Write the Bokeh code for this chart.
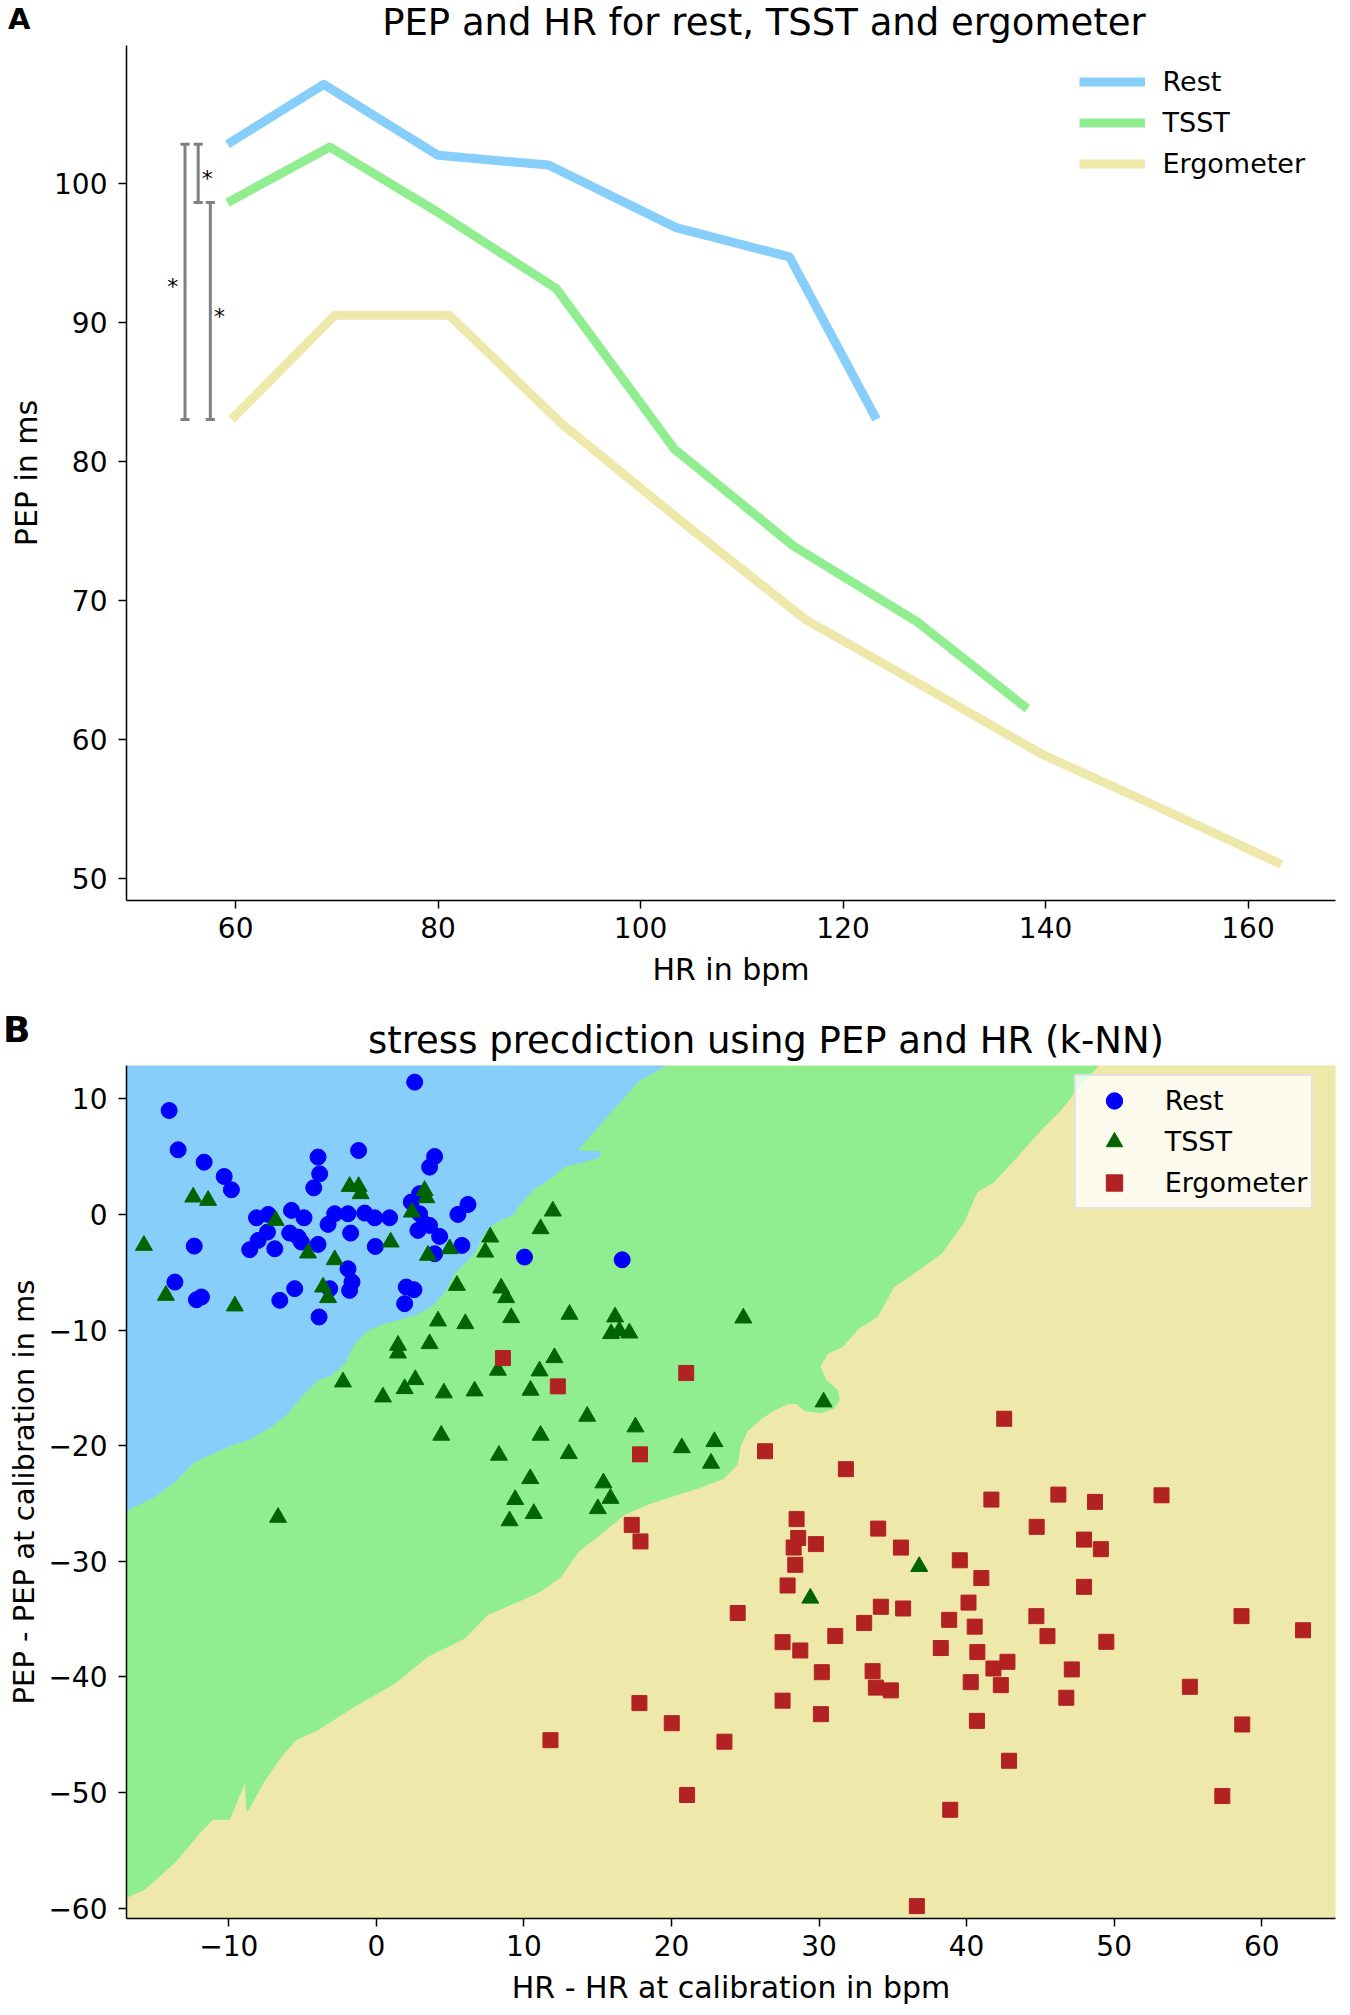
from bokeh.plotting import figure
from bokeh.models import Range1d, FixedTicker, Label, Legend, LegendItem
from bokeh.layouts import column
from bokeh.embed import file_html
from bokeh.resources import INLINE
from bokeh.core.properties import value

FONT = "DejaVu Sans"

# ---------------- Panel A data ----------------
series_names = ["Rest", "TSST", "Ergometer"]
hr_rest = [59.2, 68.7, 80.0, 90.9, 103.5, 114.7, 123.3]
pep_rest = [102.8, 107.1, 102.0, 101.3, 96.8, 94.7, 83.0]
hr_tsst = [59.2, 69.3, 80.2, 91.7, 103.3, 115.1, 127.4, 138.2]
pep_tsst = [98.6, 102.6, 97.8, 92.4, 80.9, 73.9, 68.4, 62.2]
hr_ergo = [59.6, 69.8, 81.1, 92.2, 104.0, 116.3, 127.0, 139.7, 151.5, 163.3]
pep_ergo = [83.0, 90.5, 90.5, 82.7, 75.7, 68.6, 64.2, 58.9, 55.0, 51.0]
a_x_ticks = [60, 80, 100, 120, 140, 160]
a_y_ticks = [50, 60, 70, 80, 90, 100]

# significance brackets (between the first values of the series)
sig_x = [55.0, 56.3, 57.5]
sig_low = [pep_ergo[0], pep_tsst[0], pep_ergo[0]]
sig_high = [pep_rest[0], pep_rest[0], pep_tsst[0]]
sig_star_x = [53.8, 57.2, 58.4]
sig_star_y = [92.9, 100.7, 90.8]

# ---------------- Panel B data ----------------
rest_dhr = [-14.04, 2.60, -13.43, -11.67, -10.31, -9.82, -3.95, -1.20, -3.84, -4.24,
            3.95, 3.61, 6.21, 5.53, 2.93, 2.37, -8.12, -7.33, -5.75, -4.90,
            -2.82, -1.92, -0.79, -0.11, 0.90, -3.27, -5.87, -5.30, -5.08, -7.38,
            -8.01, -8.58, -6.88, -3.95, -1.74, -0.07, 2.93, 3.27, 2.82, 3.61,
            4.29, 3.95, 5.80, -12.34, 10.04, -13.65, -12.19, -11.85, -6.54, -5.53,
            -3.16, -1.92, -1.65, -1.81, 2.03, 2.55, 1.92, -3.88, 16.66]
rest_dpep = [8.99, 11.44, 5.59, 4.52, 3.28, 2.13, 4.96, 5.53, 3.51, 2.30,
             5.01, 4.09, 0.86, 0.00, 1.79, 1.07, -0.29, 0.00, 0.35, -0.29,
             0.06, 0.06, 0.12, -0.29, -0.29, -0.86, -1.61, -1.96, -2.39, -1.53,
             -2.25, -3.05, -2.97, -2.59, -1.61, -2.77, 0.06, -0.81, -1.38, -0.95,
             -1.90, -3.40, -2.68, -2.74, -3.69, -5.85, -7.38, -7.14, -7.43, -6.42,
             -6.42, -4.70, -5.85, -6.57, -6.28, -6.51, -7.72, -8.87, -3.92]

tsst_dhr = [-12.41, -11.40, -15.75, -14.26, -9.59, -6.82, -4.63, -2.82, -1.81, -1.20,
            -1.06, -3.61, -3.27, 0.97, 3.27, 3.39, 2.41, 3.50, 4.97, 7.72,
            7.38, 11.96, 11.13, 5.46, 8.46, 8.80, 9.14, 4.18, 6.03, 1.47,
            1.47, 3.61, 8.24, 12.07, 11.06, 10.45, -2.26, 0.45, 1.92, 2.64,
            4.58, 6.66, 4.40, 11.13, 13.09, 16.18, 15.91, 16.47, 17.15, 24.87,
            14.29, 17.56, 30.31, 13.04, 20.70, 22.91, 22.68, 15.39, 15.87, 15.01,
            36.79, 29.41, 8.31, 10.43, 9.41, 10.67, 9.03, -6.66]
tsst_dpep = [1.50, 1.21, -2.68, -7.00, -7.92, -0.52, -3.34, -3.92, 2.42, 2.42,
             1.79, -6.28, -7.20, -2.39, 2.07, 1.44, 0.20, -3.54, -2.97, -1.96,
             -3.26, 0.29, -1.24, -6.14, -6.37, -7.20, -8.93, -9.22, -9.45, -11.32,
             -11.99, -11.18, -13.48, -12.39, -13.54, -15.21, -14.49, -15.79, -15.07, -14.29,
             -15.44, -15.27, -19.10, -19.10, -8.64, -8.87, -10.31, -10.08, -10.26, -8.96,
             -17.46, -18.38, -16.22, -20.69, -20.18, -19.65, -21.52, -23.22, -24.56, -25.45,
             -30.45, -33.19, -20.83, -22.85, -24.66, -25.87, -26.50, -26.20]

ergo_dhr = [8.58, 12.30, 21.00, 17.87, 26.34, 31.82, 42.55, 17.31, 17.90, 28.48,
            28.59, 28.28, 29.79, 28.39, 27.87, 34.01, 35.55, 39.54, 41.00, 24.49,
            34.19, 35.70, 33.06, 31.10, 27.53, 28.73, 38.82, 40.13, 40.55, 38.25,
            40.73, 30.19, 33.63, 33.85, 34.87, 40.28, 40.70, 27.53, 30.13, 17.83,
            20.02, 11.80, 23.59, 21.06, 38.89, 36.63, 41.68, 46.22, 48.70, 53.21,
            44.75, 47.96, 49.10, 47.96, 44.73, 58.63, 62.80, 45.48, 49.47, 42.77,
            41.82, 47.13, 42.32, 46.76, 55.13, 58.68, 42.88, 57.33]
ergo_dpep = [-12.42, -14.87, -13.71, -20.75, -20.48, -22.03, -17.67, -26.85, -28.28, -26.35,
             -27.98, -28.81, -28.51, -30.30, -32.09, -27.17, -28.81, -29.91, -31.45, -34.47,
             -33.93, -34.08, -35.33, -36.46, -36.99, -37.71, -35.06, -33.57, -35.65, -37.50,
             -37.85, -39.59, -39.50, -40.92, -41.16, -40.45, -43.80, -42.05, -43.22, -42.26,
             -44.00, -45.47, -45.60, -50.21, -51.49, -59.82, -24.66, -24.23, -24.86, -24.29,
             -27.02, -28.12, -28.95, -32.21, -34.74, -34.74, -35.96, -36.47, -36.96, -38.69,
             -39.27, -39.35, -40.71, -41.80, -40.85, -44.11, -47.25, -50.30]

b_x_ticks = [-10, 0, 10, 20, 30, 40, 50, 60]
b_y_ticks = [-60, -50, -40, -30, -20, -10, 0, 10]

# k-NN decision boundaries
rest_edge_x = [19.63, 17.72, 16.02, 13.65, 15.24, 15.12, 12.75, 11.60, 10.72, 9.59,
               9.37, 8.01, 7.33, 6.66, 5.30, 4.74, 3.72, 2.60, 0.56, -0.56,
               -1.47, -2.14, -3.05, -3.95, -5.08, -6.21, -7.11, -8.46, -10.04, -12.30,
               -13.65, -15.00, -16.59, -16.93]
rest_edge_y = [12.88, 11.44, 8.99, 5.53, 5.47, 4.90, 4.09, 2.90, 2.20, 0.63,
               0.06, -0.81, -1.67, -3.40, -5.13, -6.57, -8.01, -8.73, -9.45, -10.03,
               -11.18, -12.91, -13.92, -14.35, -15.79, -17.52, -18.38, -19.39, -20.11, -21.41,
               -23.13, -24.43, -25.44, -25.73]
tsst_edge_x = [48.97, 47.29, 46.40, 45.25, 43.44, 41.86, 40.74, 39.80, 38.30, 36.45,
               35.10, 33.96, 32.70, 31.60, 30.60, 30.10, 30.50, 31.30, 31.40, 31.00,
               30.10, 29.00, 28.50, 27.90, 26.97, 26.10, 25.20, 24.70, 24.50, 23.50,
               21.80, 18.60, 16.80, 15.20, 13.70, 12.50, 11.17, 9.80, 7.56, 5.98,
               3.50, 1.24, -1.47, -3.95, -5.42, -6.43, -7.67, -8.58, -8.80, -8.91,
               -9.93, -11.06, -11.85, -13.65, -15.70, -16.93]
tsst_edge_y = [12.88, 10.43, 8.99, 7.55, 4.96, 2.79, 1.93, -0.81, -3.40, -5.13,
               -6.28, -8.87, -9.88, -11.47, -12.04, -13.20, -14.35, -15.20, -16.10, -16.80,
               -17.20, -17.00, -16.40, -16.40, -16.95, -17.70, -18.70, -20.00, -21.60, -22.90,
               -23.70, -25.00, -26.00, -27.70, -29.20, -31.40, -32.60, -33.40, -34.65, -36.70,
               -38.26, -40.60, -42.58, -44.60, -45.46, -46.90, -49.21, -51.37, -51.66, -49.21,
               -52.38, -52.32, -53.39, -56.10, -58.40, -59.10]

# ---------------- colours ----------------
LINE_COLORS = {"Rest": "#87cefa", "TSST": "#90ee90", "Ergometer": "#eee8aa"}
REGION_COLORS = {"Rest": "#87cefa", "TSST": "#90ee90", "Ergometer": "#eee8aa"}
MARK_COLORS = {"Rest": "#0000ff", "TSST": "#006400", "Ergometer": "#b22222"}

# ---------------- layout geometry (page px) ----------------
W = 1350
FL, FR = 125, 1335
HDR_A, HDR_B = 45, 60          # header strips above each panel
A_FH, B_FH = 855, 853          # frame heights
A_H, B_H = 960, 950            # panel heights (frame + bottom border)
A_XR, A_YR = (49.22, 168.64), (48.4, 109.9)
B_XR, B_YR = (-16.93, 65.0), (-60.89, 12.88)
MID = 0.346                    # alphabetic baseline -> text-box middle, in em


def header(height, title, title_x, title_base, title_size, tag, tag_base, tag_size, tag_right):
    """Strip above a panel: panel tag (as a left-axis label) and the panel title."""
    h = figure(width=W, height=height, x_range=Range1d(FL, FR), y_range=Range1d(height, 0),
               output_backend="svg", toolbar_location=None,
               min_border_left=FL, min_border_right=W - FR, min_border_top=0, min_border_bottom=0,
               x_axis_location=None, y_axis_location="left")
    h.outline_line_color = None
    h.grid.visible = False
    ax = h.yaxis[0]
    tick = round(tag_base - MID * tag_size)
    ax.ticker = FixedTicker(ticks=[tick])
    ax.major_label_overrides = {tick: tag}
    ax.axis_line_color = None
    ax.major_tick_line_color = None
    ax.minor_tick_line_color = None
    ax.major_tick_out = 0
    ax.major_tick_in = 0
    ax.major_label_standoff = FL - tag_right
    ax.major_label_text_font = FONT
    ax.major_label_text_font_size = f"{tag_size}px"
    ax.major_label_text_font_style = "bold"
    ax.major_label_text_color = "black"
    h.add_layout(Label(x=title_x, y=title_base - MID * title_size, text=title, text_font=FONT,
                       text_font_size=f"{title_size}px", text_align="center",
                       text_baseline="middle", text_color="black"))
    return h


def style_axes(p, xt, yt, xlabel, ylabel, ylabel_size, ylabel_standoff):
    for ax, ticks in ((p.xaxis[0], xt), (p.yaxis[0], yt)):
        ax.ticker = FixedTicker(ticks=ticks)
        ax.major_label_overrides = {t: str(t).replace("-", "\u2212") for t in ticks}
        ax.minor_tick_line_color = None
        ax.major_tick_out = 8
        ax.major_tick_in = 0
        ax.major_tick_line_width = 1.5
        ax.major_tick_line_color = "black"
        ax.axis_line_width = 1.5
        ax.axis_line_color = "black"
        ax.major_label_text_font = FONT
        ax.major_label_text_font_size = "28px"
        ax.major_label_text_color = "black"
        ax.axis_label_text_font = FONT
        ax.axis_label_text_font_style = "normal"
        ax.axis_label_text_color = "black"
    p.xaxis[0].major_label_standoff = 8
    p.yaxis[0].major_label_standoff = 11
    p.xaxis[0].axis_label = xlabel
    p.xaxis[0].axis_label_text_font_size = "30px"
    p.xaxis[0].axis_label_standoff = 11
    p.yaxis[0].axis_label = ylabel
    p.yaxis[0].axis_label_text_font_size = f"{ylabel_size}px"
    p.yaxis[0].axis_label_standoff = ylabel_standoff
    p.xgrid.visible = False
    p.ygrid.visible = False
    p.outline_line_color = None


# ================= Panel A =================
hdr1 = header(HDR_A, "PEP and HR for rest, TSST and ergometer", 763, 34.5, 37,
              "A", 28.3, 29, 29)

p1 = figure(width=W, height=A_H, x_range=Range1d(*A_XR), y_range=Range1d(*A_YR),
            output_backend="svg", toolbar_location=None,
            min_border_left=FL, min_border_right=W - FR,
            min_border_top=0, min_border_bottom=A_H - A_FH)
style_axes(p1, a_x_ticks, a_y_ticks, "HR in bpm", "PEP in ms", 30, 7)

line_renderers = []
for name, xs, ys in (("Rest", hr_rest, pep_rest), ("TSST", hr_tsst, pep_tsst),
                     ("Ergometer", hr_ergo, pep_ergo)):
    r = p1.line(xs, ys, line_width=9, line_color=LINE_COLORS[name], line_join="round")
    line_renderers.append((name, r))

cap = 0.45
p1.segment(x0=sig_x, y0=sig_low, x1=sig_x, y1=sig_high, line_color="#808080", line_width=3)
p1.segment(x0=[x - cap for x in sig_x], y0=sig_low, x1=[x + cap for x in sig_x], y1=sig_low,
           line_color="#808080", line_width=3)
p1.segment(x0=[x - cap for x in sig_x], y0=sig_high, x1=[x + cap for x in sig_x], y1=sig_high,
           line_color="#808080", line_width=3)
p1.text(x=sig_star_x, y=sig_star_y, text=["*"] * len(sig_star_x), text_font=value(FONT),
        text_font_size="22px", text_align="center", text_baseline="middle", y_offset=5,
        text_color="black")

leg1 = Legend(items=[LegendItem(label=n, renderers=[r]) for n, r in line_renderers],
              location=(952.5, 715.8), orientation="vertical", margin=0, padding=0,
              glyph_width=66, glyph_height=41, label_height=41, spacing=0,
              label_standoff=18, label_text_font=FONT, label_text_font_size="27px",
              label_text_color="black", border_line_color=None, background_fill_alpha=0)
p1.add_layout(leg1)

# ================= Panel B =================
hdr2 = header(HDR_B, "stress precdiction using PEP and HR (k-NN)", 765, 48.3, 37,
              "B", 36.7, 36, 29)

p2 = figure(width=W, height=B_H, x_range=Range1d(*B_XR), y_range=Range1d(*B_YR),
            output_backend="svg", toolbar_location=None,
            min_border_left=FL, min_border_right=W - FR,
            min_border_top=0, min_border_bottom=B_H - B_FH)
style_axes(p2, b_x_ticks, b_y_ticks, "HR - HR at calibration in bpm",
           "PEP - PEP at calibration in ms", 29, 4)
p2.background_fill_color = REGION_COLORS["Ergometer"]

x0, y1 = B_XR[0], B_YR[1]
p2.patch([x0] + tsst_edge_x, [y1] + tsst_edge_y, fill_color=REGION_COLORS["TSST"],
         line_color=None)
p2.patch([x0] + rest_edge_x, [y1] + rest_edge_y, fill_color=REGION_COLORS["Rest"],
         line_color=None)

s_rest = p2.scatter(rest_dhr, rest_dpep, marker="circle", size=16,
                    fill_color=MARK_COLORS["Rest"], line_color=MARK_COLORS["Rest"])
s_tsst = p2.scatter(tsst_dhr, tsst_dpep, marker="triangle", size=17,
                    fill_color=MARK_COLORS["TSST"], line_color=MARK_COLORS["TSST"])
s_ergo = p2.scatter(ergo_dhr, ergo_dpep, marker="square", size=15,
                    fill_color=MARK_COLORS["Ergometer"], line_color=MARK_COLORS["Ergometer"])

leg2 = Legend(items=[LegendItem(label="Rest", renderers=[s_rest]),
                     LegendItem(label="TSST", renderers=[s_tsst]),
                     LegendItem(label="Ergometer", renderers=[s_ergo])],
              location=(947.7, 708.7), orientation="vertical", margin=0, padding=4,
              glyph_width=68, glyph_height=41, label_height=41, spacing=0,
              label_standoff=17, label_text_font=FONT, label_text_font_size="27px",
              label_text_color="black", border_line_color="#cccccc", border_line_width=2,
              background_fill_color="white", background_fill_alpha=0.8)
p2.add_layout(leg2)

layout = column(hdr1, p1, hdr2, p2, spacing=0)
open("out.html", "w").write(file_html(layout, INLINE, title="PEP and HR"))
